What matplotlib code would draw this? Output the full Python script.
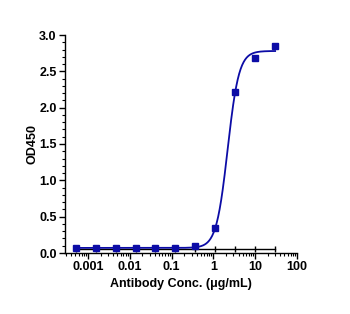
import numpy as np
import matplotlib
matplotlib.use("Agg")
import matplotlib.pyplot as plt
from matplotlib.ticker import LogLocator, FixedLocator, MultipleLocator

plt.rcParams["font.family"] = ["Liberation Sans", "DejaVu Sans"]
plt.rcParams["font.weight"] = "bold"

# 3-fold dilution series, ug/mL
conc = [0.000508, 0.00152, 0.00457, 0.0137, 0.0412, 0.123, 0.370, 1.11, 3.33, 10.0, 30.0]
od450 = [0.07, 0.07, 0.07, 0.07, 0.065, 0.075, 0.09, 0.35, 2.22, 2.68, 2.85]
blank = [0.06] * len(conc)

# 4PL fit parameters
bottom, top, ec50, hill = 0.07, 2.78, 2.19, 3.2

BLUE = "#0c0ca6"

fig = plt.figure(figsize=(3.5, 3.14), dpi=100)
ax = fig.add_axes([65/350, 61/314, 232/350, 218/314])

xf = np.logspace(np.log10(conc[0]), np.log10(conc[-1]), 400)
yf = bottom + (top - bottom) / (1 + (ec50 / xf) ** hill)
ax.plot(conc, blank, "-", c="black", lw=1.0, marker="|", ms=5, mew=1.0, zorder=2)
ax.plot(xf, yf, "-", c=BLUE, lw=1.3, zorder=3)
ax.plot(conc, od450, "s", c=BLUE, ms=4.8, zorder=4)

ax.set_xscale("log")
ax.set_xlim(10 ** -3.55, 100)
ax.set_ylim(0, 3.0)
ax.xaxis.set_major_locator(FixedLocator([0.001, 0.01, 0.1, 1, 10, 100]))
ax.set_xticklabels(["0.001", "0.01", "0.1", "1", "10", "100"])
ax.xaxis.set_minor_locator(LogLocator(base=10, subs=np.arange(2, 10), numticks=20))
ax.yaxis.set_major_locator(MultipleLocator(0.5))
ax.yaxis.set_minor_locator(MultipleLocator(0.1))
ax.yaxis.set_major_formatter(matplotlib.ticker.FormatStrFormatter("%.1f"))

for s in ["top", "right"]:
    ax.spines[s].set_visible(False)
for s in ["left", "bottom"]:
    ax.spines[s].set_linewidth(1.0)
ax.tick_params(which="major", length=4, width=1.0, labelsize=9, pad=2)
ax.tick_params(which="minor", length=2, width=0.8)
for lab in ax.get_xticklabels() + ax.get_yticklabels():
    lab.set_fontweight("bold")

ax.set_xlabel("Antibody Conc. (\u03bcg/mL)", fontsize=9, fontweight="bold", labelpad=3)
ax.set_ylabel("OD450", fontsize=9, fontweight="bold")
ax.yaxis.set_label_coords(-27/232, 0.5)

fig.savefig("out.png", dpi=100)
